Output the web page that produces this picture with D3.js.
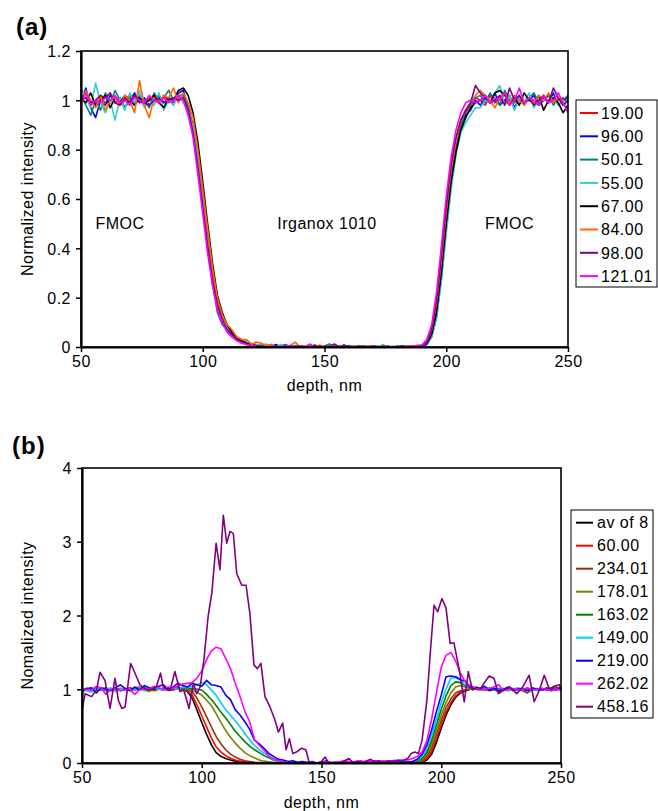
<!DOCTYPE html>
<html><head><meta charset="utf-8">
<script src="https://cdn.jsdelivr.net/npm/d3@7"></script>
<style>
body{margin:0;background:#fff}
svg{display:block}
text{font-family:Arial,"Liberation Sans",sans-serif;fill:#000}
</style>
</head><body>
<svg id="c" width="658" height="811"></svg>
<script>
// ---------- shared x grid & ticks ----------
const depth = d3.range(50, 251, 2);           // 101 sample depths (nm)
const xTicks = [50, 100, 150, 200, 250];
const aYTicks = [0, 0.2, 0.4, 0.6, 0.8, 1, 1.2];
const aYTickLabels = ["0", "0.2", "0.4", "0.6", "0.8", "1", "1.2"];
const bYTicks = [0, 1, 2, 3, 4];
const bYTickLabels = ["0", "1", "2", "3", "4"];

// ---------- panel (a) ----------
const aNames = ["19.00", "96.00", "50.01", "55.00", "67.00", "84.00", "98.00", "121.01"];
const aColors = ["#ff0000", "#0000ff", "#008080", "#33cccc", "#000000", "#ff6600", "#800080", "#ff00ff"];

const a19 = [
1.00,1.03,0.99,0.98,1.01,0.99,1.00,1.01,0.98,1.00,1.02,0.99,1.00,0.98,1.01,1.00,0.99,1.02,1.00,0.99,1.01,
1.01,0.97,0.90,0.77,0.61,0.45,0.30,0.19,0.12,0.08,0.05,0.035,0.02,0.012,0.008,0.005,
0,0.003,0,0.002,0,0,0.004,0,0,0.002,0, 0,0,0.003,0,0,0.002,0,0,0,0.004,0, 0,0,0.002,0,0,0,0.003,0,0,0.002,0.003,
0.005,0.02,0.06,0.16,0.33,0.52,0.69,0.81,0.90,0.95,0.98,1.01,
1.00,0.98,1.02,0.99,1.01,1.00,0.98,1.02,1.00,0.99,1.01,1.00,0.98,1.00,1.02,0.99,1.00,1.01,0.99];
const a96 = [
0.99,1.05,0.97,0.93,1.00,0.98,1.02,0.99,1.01,0.97,1.00,1.03,0.99,1.01,0.98,1.00,1.02,0.99,1.01,1.00,1.03,
1.04,0.97,0.88,0.74,0.57,0.40,0.26,0.16,0.10,0.07,0.05,0.03,0.02,0.01,0.006,0.004,
0.004,0,0,0.01,0,0,0.003,0,0.005,0,0, 0.003,0,0,0,0.006,0,0,0.002,0,0,0.004, 0,0,0.003,0,0,0.002,0,0.004,0,0,0.003,
0.003,0.01,0.04,0.12,0.28,0.48,0.66,0.79,0.88,0.94,0.96,1.00,
0.98,1.01,0.99,1.03,0.98,1.00,1.02,0.97,1.01,0.99,1.00,1.02,0.98,1.01,0.99,1.03,0.98,1.00,1.01];
const a50 = [
1.02,0.98,0.94,1.00,0.96,1.03,0.99,1.04,1.00,0.97,1.01,0.98,1.02,1.00,0.97,1.03,1.00,1.01,1.04,1.00,1.02,
1.02,0.97,0.89,0.75,0.58,0.41,0.26,0.14,0.09,0.07,0.05,0.04,0.03,0.02,0.01,0.005,
0.01,0.005,0.01,0,0.004,0.01,0,0.006,0,0.003,0, 0.008,0,0.004,0.012,0,0.003,0,0.006,0,0,0.005, 0,0.004,0,0.008,0,0,0.003,0,0.005,0,0.004,
0.005,0.015,0.05,0.14,0.30,0.50,0.67,0.80,0.89,0.96,0.98,1.01,
1.02,0.99,1.03,1.00,0.98,1.04,1.00,0.99,1.02,0.98,1.01,1.03,0.99,1.00,1.02,0.98,1.01,1.00,1.02];
const a55 = [
1.05,1.01,0.97,1.07,0.99,0.95,1.00,0.92,1.01,0.96,1.03,0.99,1.04,0.97,1.00,0.98,1.03,0.96,1.00,0.98,1.02,
0.99,0.96,0.89,0.76,0.59,0.42,0.27,0.16,0.11,0.08,0.06,0.04,0.03,0.02,0.015,0.01,
0.008,0.012,0.004,0,0.01,0,0.006,0,0.004,0,0.007, 0,0.005,0,0,0.008,0,0.003,0,0.006,0,0, 0.004,0,0.006,0,0.003,0,0,0.005,0,0.002,0.004,
0.006,0.014,0.04,0.12,0.27,0.46,0.64,0.78,0.87,0.91,0.94,0.97,
0.97,1.00,0.99,1.03,1.06,0.98,1.02,0.96,1.01,0.99,1.03,0.97,1.00,1.02,0.99,1.01,0.98,1.00,0.96];
const a67 = [
1.01,0.99,1.03,0.98,1.00,1.02,0.97,1.01,0.99,1.02,1.00,0.98,1.01,0.99,1.00,1.02,0.99,0.97,1.01,1.00,1.04,
1.05,1.02,0.95,0.83,0.67,0.50,0.34,0.21,0.14,0.09,0.06,0.04,0.025,0.015,0.01,0.005,
0.003,0,0.002,0,0,0.004,0,0,0.002,0,0, 0.006,0,0,0.003,0,0,0.008,0,0,0.002,0, 0,0.003,0,0,0.002,0,0,0.004,0,0,0.003,
0.004,0.015,0.05,0.14,0.30,0.50,0.67,0.79,0.88,0.93,0.97,0.99,
1.00,1.02,0.99,1.03,1.04,1.02,0.99,1.01,0.98,1.03,1.00,0.99,1.02,0.96,1.00,1.01,0.99,0.95,0.98];
const a84 = [
0.98,1.04,1.00,0.97,1.02,0.96,1.00,1.01,0.98,1.02,1.00,0.95,1.08,0.98,0.93,1.01,0.99,1.02,1.01,1.05,0.99,
1.03,0.99,0.93,0.80,0.64,0.48,0.32,0.20,0.13,0.09,0.07,0.04,0.03,0.03,0.01,0.02,
0.015,0.005,0.01,0,0.003,0,0.006,0.02,0,0.004,0, 0,0.008,0,0.003,0,0.006,0,0,0.004,0,0, 0.005,0,0,0.003,0,0.002,0,0,0.004,0,0.004,
0.005,0.02,0.07,0.18,0.35,0.55,0.72,0.84,0.92,0.96,0.99,1.02,
1.04,1.02,1.00,0.97,1.01,1.03,0.99,1.02,1.00,0.98,1.01,0.99,1.02,1.00,1.03,0.99,1.01,0.98,1.00];
const a98 = [
1.00,1.01,0.99,1.00,1.02,1.01,1.03,0.99,0.98,1.01,0.99,1.02,1.00,0.99,0.98,1.00,1.01,0.99,1.00,1.01,1.00,
1.01,0.96,0.87,0.73,0.57,0.41,0.27,0.17,0.11,0.07,0.05,0.03,0.02,0.01,0.006,0.004,
0.003,0,0,0.004,0,0.002,0,0,0.005,0,0, 0,0.003,0,0,0.012,0,0.006,0,0,0.003,0, 0,0.004,0,0,0.003,0,0.002,0,0,0.004,0.006,
0.006,0.02,0.07,0.19,0.37,0.57,0.74,0.85,0.92,0.96,0.99,1.06,
1.03,1.01,0.99,1.00,1.02,0.98,1.05,1.00,1.02,0.99,1.01,0.98,1.00,1.02,0.99,1.05,1.01,0.98,1.00];
const a121 = [
0.99,1.03,0.98,1.00,0.99,1.01,1.00,1.02,0.99,1.00,0.98,1.01,1.00,0.99,1.02,1.00,0.99,1.01,0.99,1.00,1.02,
1.00,0.94,0.85,0.70,0.54,0.38,0.25,0.15,0.10,0.06,0.04,0.025,0.015,0.01,0.006,0.003,
0.002,0,0.003,0,0,0.004,0.006,0,0.003,0,0.012, 0,0.002,0,0.004,0,0,0.003,0,0,0.002,0, 0,0.003,0,0,0.002,0,0,0.003,0,0.004,0.006,
0.008,0.03,0.09,0.22,0.41,0.61,0.77,0.88,0.95,0.99,1.00,0.99,
1.00,1.02,0.99,1.01,1.00,1.03,0.98,1.00,1.05,0.99,1.01,1.00,0.98,1.02,0.99,1.00,1.03,0.99,0.95];

// ---------- panel (b) ----------
const bNames = ["av of 8", "60.00", "234.01", "178.01", "163.02", "149.00", "219.00", "262.02", "458.16"];
const bColors = ["#000000", "#ff0000", "#993300", "#808000", "#008000", "#00ccff", "#0000ff", "#ff00ff", "#800080"];

const bAv = [
1.00,1.01,0.99,1.00,1.00,1.01,0.99,1.00,1.01,1.00,0.99,1.00,1.01,1.00,0.99,1.00,1.01,1.00,1.00,0.99,1.01,
1.00,0.97,0.88,0.72,0.55,0.39,0.25,0.14,0.09,0.06,0.04,0.025,0.015,0.01,0.006,0.003,
0,0.002,0,0,0.001,0,0,0.002,0,0,0, 0,0.001,0,0,0,0.002,0,0,0,0.001,0, 0,0,0.001,0,0,0,0.002,0,0,0,0,
0.003,0.01,0.04,0.12,0.28,0.47,0.65,0.79,0.89,0.95,0.98,1.00,
1.00,1.01,1.00,0.99,1.00,1.01,1.00,0.99,1.00,1.01,1.00,0.99,1.00,1.00,1.01,0.99,1.00,1.01,1.00];
const b60 = [
0.99,1.00,1.01,0.99,1.00,0.98,1.00,1.01,0.99,1.00,1.02,1.00,0.99,1.01,1.00,0.98,1.00,1.01,0.99,1.00,1.00,
1.00,0.98,0.92,0.79,0.64,0.49,0.34,0.22,0.15,0.10,0.065,0.04,0.025,0.015,0.01,0.005,
0.003,0,0.002,0,0,0.004,0,0,0.002,0,0.003, 0,0,0.002,0,0.004,0,0,0.003,0,0,0.002, 0,0.003,0,0,0.002,0,0.004,0,0,0.002,0.003,
0.005,0.02,0.06,0.16,0.33,0.52,0.69,0.82,0.91,0.96,0.99,1.00,
1.01,1.00,0.99,1.02,1.00,0.99,1.01,1.00,0.98,1.01,1.00,0.99,1.01,1.00,0.99,1.02,1.00,1.01,1.00];
const b234 = [
1.01,0.99,1.00,1.02,0.99,1.00,1.01,0.98,1.00,1.01,0.99,1.02,1.03,1.00,0.99,1.01,1.00,0.99,1.02,1.00,1.01,
1.01,0.99,0.97,0.88,0.76,0.63,0.49,0.36,0.26,0.18,0.12,0.08,0.05,0.03,0.02,0.01,
0.006,0.003,0.002,0,0.003,0,0,0.004,0,0.002,0, 0.003,0,0,0.02,0,0.003,0,0.002,0,0.004,0, 0.002,0,0.003,0,0.002,0,0.004,0.003,0,0.005,0.006,
0.01,0.03,0.09,0.21,0.39,0.58,0.75,0.87,0.95,0.98,0.99,1.00,
1.00,0.99,1.01,0.98,0.99,0.97,1.00,1.01,0.99,1.00,0.98,0.95,1.00,1.01,0.99,1.00,1.02,1.03,1.01];
const b178 = [
1.00,1.01,0.99,1.00,1.02,0.99,1.00,0.99,1.01,1.00,0.98,1.01,1.00,0.99,0.97,1.00,1.01,0.99,1.00,1.02,1.01,
1.01,1.00,0.99,0.96,0.92,0.85,0.78,0.67,0.55,0.44,0.35,0.27,0.20,0.14,0.10,0.07,
0.04,0.025,0.015,0.008,0.005,0.003,0,0.004,0,0.002,0, 0.003,0,0.002,0,0.004,0,0,0.003,0,0.002,0, 0.004,0,0.002,0,0.003,0,0.004,0.005,0.006,0.008,0.01,
0.015,0.045,0.12,0.26,0.45,0.65,0.82,0.95,1.03,1.05,1.03,1.01,
1.00,1.01,0.99,1.00,1.02,0.99,1.00,0.98,1.01,1.00,0.99,1.01,1.00,0.99,1.01,1.00,0.98,1.01,1.00];
const b163 = [
0.98,1.00,1.01,0.99,1.00,1.02,0.99,1.00,0.98,1.01,1.00,0.99,1.01,1.02,1.00,0.99,1.01,1.00,0.99,1.01,1.02,
1.02,1.01,1.01,1.00,0.99,0.93,0.86,0.78,0.69,0.61,0.52,0.43,0.36,0.29,0.23,0.18,
0.14,0.10,0.07,0.04,0.025,0.015,0.008,0.004,0.002,0,0.003, 0,0.002,0,0.004,0,0,0.003,0,0.002,0,0.003, 0,0.002,0,0.004,0.003,0,0.005,0.004,0.006,0.008,0.01,
0.025,0.06,0.15,0.31,0.52,0.73,0.91,1.05,1.10,1.09,1.05,1.02,
1.00,1.01,1.00,0.99,1.01,1.00,0.99,1.02,1.00,0.99,1.00,1.01,0.99,1.00,1.01,1.00,0.99,1.01,1.02];
const b149 = [
1.02,0.98,0.96,1.00,1.01,0.99,1.02,0.97,1.00,1.01,0.99,1.00,1.02,0.98,1.01,1.03,1.00,0.99,1.02,1.01,1.00,
1.03,1.02,1.04,1.06,1.09,1.06,0.99,0.92,0.82,0.72,0.65,0.57,0.49,0.40,0.31,0.24,
0.18,0.13,0.09,0.05,0.03,0.015,0.008,0.005,0.003,0,0.004, 0,0.002,0,0.005,0,0.003,0,0,0.004,0,0.002, 0.003,0,0.004,0.002,0,0.005,0.004,0.006,0.008,0.01,0.015,
0.04,0.09,0.20,0.38,0.60,0.82,1.00,1.15,1.16,1.12,1.06,1.03,
1.03,1.01,1.00,1.02,0.99,1.00,1.01,0.98,1.00,1.02,1.00,0.99,1.00,0.98,0.99,1.00,0.98,1.00,0.99];
const b219 = [
0.97,1.01,1.02,0.95,1.02,1.00,0.98,1.02,1.06,1.01,0.98,1.03,0.99,1.05,1.02,1.01,1.04,1.06,1.00,1.03,1.08,
1.05,1.03,1.08,1.06,1.04,1.12,1.06,1.05,1.03,0.92,0.86,0.72,0.65,0.56,0.46,0.31,
0.26,0.20,0.13,0.09,0.05,0.04,0.02,0.03,0.01,0.02,0.01, 0.02,0,0.01,0.03,0,0.01,0.005,0.02,0,0.01,0.03, 0,0.01,0.02,0,0.01,0.005,0.01,0.02,0.01,0.015,0.02,
0.05,0.12,0.25,0.45,0.70,0.92,1.17,1.18,1.17,1.13,1.11,1.03,
1.02,1.00,1.04,0.99,1.01,0.98,1.00,1.03,0.99,1.00,1.01,0.98,1.02,1.00,0.99,1.01,1.00,0.99,1.03];
const b262 = [
0.96,1.00,0.99,1.04,1.02,0.93,1.00,1.01,0.98,0.99,1.00,0.93,0.99,1.01,1.00,1.04,1.02,1.00,1.03,1.01,1.04,
1.07,1.08,1.09,1.15,1.25,1.40,1.52,1.57,1.55,1.42,1.28,1.08,0.90,0.70,0.56,0.32,
0.24,0.17,0.10,0.06,0.03,0.015,0.005,0,0.004,0,0.003, 0.01,0,0.005,0.02,0.01,0.005,0.02,0.03,0.015,0.02,0.03, 0.02,0.025,0.03,0.02,0.03,0.02,0.035,0.03,0.04,0.04,0.06,
0.09,0.15,0.30,0.60,0.95,1.30,1.46,1.50,1.38,1.22,1.10,1.05,
1.02,1.00,0.99,1.01,1.03,1.06,0.98,1.00,1.01,0.99,1.00,1.02,0.99,1.00,1.01,1.00,0.98,1.01,0.98];
// 458.16 was sampled on its own depth grid
const depth458 = [
50,51.3,54,56.1,57.5,59.6,61.7,63.8,65.2,66.6,
68,70.3,72.1,74.2,77,79,81,82.8,83.9,86.7,
88.8,90.9,92.5,94.7,96.5,97.9,99.3,100.9,102.7,104.2,
106,107.6,109,110.4,111.8,113.2,114.6,116.7,118.5,120.1,
121.8,123.2,124.7,126.4,128.5,130.6,132,133.8,135.2,136.6,
138,139.6,141.7,143.5,144.9,146.6,148,150,151.5,153,
155,157,159,161.5,163,165,167,169,170.5,172,
174,176,178,180,182,184,186,187.5,189,190.5,
192,194,195.5,197,198.5,200.3,202,203.7,205.3,207,
208.2,209.6,211.3,213,214.8,216.5,217.8,220,222,223.9,
226,228.7,231.5,234,236.7,238.8,241,243,245.2,247.1,
249.4,250];
const b458 = [
0.72,0.94,0.90,0.99,1.23,1.12,0.74,1.15,0.85,0.74,
0.76,1.35,1.22,1.06,0.99,1.00,1.03,1.22,1.03,0.98,
1.24,0.97,0.99,0.74,1.08,0.94,1.03,1.40,2.00,2.30,
2.98,2.62,3.36,2.98,3.14,3.11,2.57,2.41,2.41,2.03,
1.33,1.28,1.35,0.90,0.76,0.58,0.42,0.54,0.18,0.33,
0.13,0.15,0.20,0.18,0,0.01,0,0.02,0.08,0,
0.01,0,0.02,0.06,0.01,0.02,0,0.03,0.05,0.02,
0.03,0.01,0.03,0.02,0.04,0.03,0.06,0.13,0.15,0.13,
0.31,0.85,1.53,2.14,2.05,2.23,2.10,1.62,1.63,1.35,
1.13,0.83,1.24,0.99,1.03,1.01,1.08,1.18,1.15,0.94,
0.99,1.03,0.94,1.03,1.19,0.83,0.99,1.19,1.00,1.04,
1.06,0.99];

const aSeries = [a19, a96, a50, a55, a67, a84, a98, a121].map(v => ({x: depth, y: v}));
const bSeries = [bAv, b60, b234, b178, b163, b149, b219, b262].map(v => ({x: depth, y: v}))
  .concat([{x: depth458, y: b458}]);

// ---------- drawing ----------
const svg = d3.select("#c");
const FONT = 'Arial,"Liberation Sans",sans-serif';

function panel(o) {
  const g = svg.append("g");
  const x = d3.scaleLinear().domain([50, 250]).range([o.left, o.right]);
  const y = d3.scaleLinear().domain(o.yDomain).range([o.bottom, o.top]);

  const line = d3.line().x(d => x(d[0])).y(d => y(d[1]));
  o.series.forEach((s, i) => {
    const pts = s.x.map((xx, k) => [xx, s.y[k]]).filter(p => p[1] !== undefined);
    g.append("path").attr("d", line(pts)).attr("fill", "none")
      .attr("stroke", o.colors[i]).attr("stroke-width", 1.6).attr("stroke-linejoin", "round");
  });

  g.append("rect").attr("x", o.left).attr("y", o.top)
    .attr("width", o.right - o.left).attr("height", o.bottom - o.top)
    .attr("fill", "none").attr("stroke", "#000").attr("stroke-width", 1.6);

  const xa = g.append("g").attr("transform", `translate(0,${o.bottom})`)
    .call(d3.axisBottom(x).tickValues(xTicks).tickSize(5).tickSizeOuter(0).tickPadding(4));
  const ya = g.append("g").attr("transform", `translate(${o.left},0)`)
    .call(d3.axisLeft(y).tickValues(o.yTicks).tickFormat((d, i) => o.yLabels[i])
      .tickSize(5).tickSizeOuter(0).tickPadding(5));
  [xa, ya].forEach(a => {
    a.select(".domain").attr("stroke", "#000").attr("stroke-width", 2.2);
    a.selectAll(".tick line").attr("stroke", "#000").attr("stroke-width", 1.5);
    a.selectAll(".tick text").style("font-family", FONT)
      .style("font-size", "16px").style("letter-spacing", "0.5px").attr("fill", "#000");
  });
  ya.selectAll(".tick text").attr("dy", "0.36em");

  g.append("text").attr("x", (o.left + o.right) / 2).attr("y", o.xTitleY)
    .attr("text-anchor", "middle").style("font-size", "16px").style("letter-spacing", "0.5px")
    .text("depth, nm");
  g.append("text").attr("transform", `translate(${o.yTitleX},${(o.top + o.bottom) / 2}) rotate(-90)`)
    .attr("text-anchor", "middle").style("font-size", "16px").style("letter-spacing", "0.5px")
    .text(o.yTitle);

  g.append("text").attr("x", o.letterX).attr("y", o.letterY)
    .style("font-size", "24px").style("font-weight", "bold").style("letter-spacing", "1px")
    .text(o.letter);

  const L = o.legend;
  g.append("rect").attr("x", L.x).attr("y", L.y).attr("width", L.w).attr("height", L.h)
    .attr("fill", "#fff").attr("stroke", "#000").attr("stroke-width", 1);
  o.names.forEach((n, i) => {
    const yy = L.firstY + i * L.step;
    g.append("line").attr("x1", L.lx1).attr("x2", L.lx2).attr("y1", yy).attr("y2", yy)
      .attr("stroke", o.colors[i]).attr("stroke-width", 2);
    g.append("text").attr("x", L.tx).attr("y", yy).attr("dy", "0.36em")
      .style("font-size", "16px").style("letter-spacing", "0.5px").text(n);
  });
  return {g, x, y};
}

const pa = panel({
  left: 81, right: 568, top: 51, bottom: 347, yDomain: [0, 1.2],
  yTicks: aYTicks, yLabels: aYTickLabels, series: aSeries, colors: aColors, names: aNames,
  xTitleY: 391, yTitleX: 33, yTitle: "Normalized intensity", letter: "(a)", letterX: 16, letterY: 35,
  legend: {x: 576, y: 100, w: 81, h: 187, firstY: 113, step: 23.3, lx1: 580, lx2: 598, tx: 601}
});
const notes = [{t: "FMOC", d: 66}, {t: "Irganox 1010", d: 151}, {t: "FMOC", d: 226}];
notes.forEach(n => pa.g.append("text").attr("x", pa.x(n.d)).attr("y", pa.y(0.5))
  .attr("text-anchor", "middle").attr("dy", "0.36em")
  .style("font-size", "16px").style("letter-spacing", "0.5px").text(n.t));

panel({
  left: 82, right: 561, top: 468, bottom: 763, yDomain: [0, 4],
  yTicks: bYTicks, yLabels: bYTickLabels, series: bSeries, colors: bColors, names: bNames,
  xTitleY: 808, yTitleX: 33, yTitle: "Nomalized intensity", letter: "(b)", letterX: 12, letterY: 454,
  legend: {x: 571, y: 510, w: 82, h: 208, firstY: 522.7, step: 23, lx1: 576, lx2: 593, tx: 597}
});
</script>
</body></html>
